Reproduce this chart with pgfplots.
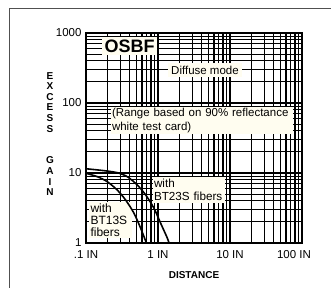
\documentclass[border=0pt]{standalone}
\usepackage{pgfplots}
\pgfplotsset{compat=1.18}
\usepackage{fontspec}
\setmainfont{Liberation Sans}
\definecolor{boxbg}{RGB}{255,253,240}
\definecolor{framegray}{RGB}{80,80,80}
\begin{document}
\begin{tikzpicture}[x=1pt,y=1pt]
\path[use as bounding box] (0,0) rectangle (331,288);
\draw[framegray, line width=0.9pt] (9.5,0) -- (9.5,279.7) -- (331,279.7);
\begin{axis}[
  at={(86pt,45pt)}, anchor=south west, scale only axis,
  width=216pt, height=210pt,
  xmode=log, ymode=log, xmin=0.1, xmax=100, ymin=1, ymax=1000,
  xtick={0.1,1,10,100},
  xticklabels={.1 IN,1 IN,10 IN,{\makebox[0pt]{100 IN\hspace{16pt}}}},
  minor xtick={0.2,0.3,0.4,0.5,0.6,0.7,0.8,0.9,2,3,4,5,6,7,8,9,20,30,40,50,60,70,80,90},
  ytick={1,10,100,1000},
  yticklabels={1,10,100,1000},
  minor ytick={2,3,4,5,6,7,8,9,20,30,40,50,60,70,80,90,200,300,400,500,600,700,800,900},
  grid=both,
  major grid style={black, line width=1.1pt},
  minor grid style={black, line width=1.1pt},
  axis line style={black, line width=1.1pt},
  major tick length=0pt, minor tick length=0pt,
  ticklabel style={font=\fontsize{11.5}{12}\selectfont},
  /pgf/number format/assume math mode=true,
  xticklabel style={yshift=-4pt},
  yticklabel style={xshift=-1pt},
]
\addplot[draw=none, forget plot] coordinates {(0.1,1) (100,1000)};
\end{axis}
\node[fill=boxbg, inner sep=0pt, minimum width=55pt, minimum height=18pt, font=\bfseries\fontsize{18}{18}\selectfont] at (129.5,242) {OSBF};
\node[fill=boxbg, inner sep=0pt, minimum width=74pt, minimum height=14pt, font=\fontsize{11.5}{13}\selectfont] at (205,218) {Diffuse mode};
\node[fill=boxbg, inner sep=1pt, text width=180pt, minimum height=25pt, align=left, font=\fontsize{11.5}{14}\selectfont] at (202,167.5) {(Range based on 90\% reflectance\\white test card)};
\node[fill=boxbg, inner sep=1.5pt, text width=69pt, minimum height=24pt, align=left, font=\fontsize{11.7}{13.5}\selectfont] at (188.5,98) {with\\BT23S fibers};
\node[fill=boxbg, inner sep=1.5pt, text width=40pt, minimum height=36pt, align=left, font=\fontsize{12}{12}\selectfont] at (110.5,68) {with\\BT13S\\fibers};
\begin{axis}[
  at={(86pt,45pt)}, anchor=south west, scale only axis,
  width=216pt, height=210pt,
  xmode=log, ymode=log, xmin=0.1, xmax=100, ymin=1, ymax=1000,
  hide axis,
]
\addplot[black, line width=1.6pt, smooth, tension=0.5] coordinates {
 (0.1,11.5) (0.178,10.8) (0.272,10.1) (0.375,8.85) (0.515,6.74) (0.675,4.85) (0.88,3.13) (1.09,1.91) (1.35,1.17) (1.42,1.0)
};
\addplot[black, line width=1.6pt, smooth, tension=0.5] coordinates {
 (0.1,9.9) (0.144,8.85) (0.198,7.5) (0.272,5.7) (0.356,4.1) (0.464,2.66) (0.575,1.62) (0.69,1.0)
};
\end{axis}
\node[anchor=north, inner sep=0pt, align=center, font=\bfseries\fontsize{10}{10.6}\selectfont] at (50,216) {E\\X\\C\\E\\S\\S\\[21.2pt]G\\A\\I\\N};
\node[font=\bfseries\fontsize{10}{12}\selectfont] at (194,13) {DISTANCE};
\end{tikzpicture}
\end{document}
